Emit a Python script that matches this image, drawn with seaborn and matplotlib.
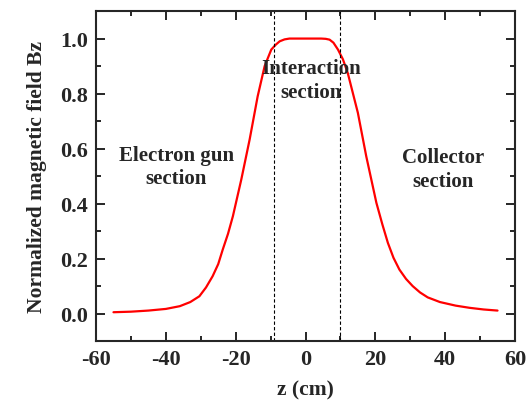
import numpy as np
import pandas as pd
import seaborn as sns
import matplotlib
matplotlib.use("Agg")
import matplotlib.pyplot as plt
from matplotlib.ticker import MultipleLocator

# values
z_cm = [-55, -50, -45, -40, -36, -33, -30.4, -28.5, -26.6, -25, -23.7, -22.2,
        -20.8, -18.4, -16, -13.7, -11.7, -9.8, -8.5, -7.4, -6, -4.6, 0, 4.5,
        5.8, 6.9, 8, 9.3, 10.7, 12.1, 15, 17.4, 20.3, 22, 23.6, 25.2, 26.9,
        28.8, 30.7, 32.8, 35, 38.5, 43, 47, 51, 55]
bz = [0.005, 0.007, 0.011, 0.017, 0.027, 0.042, 0.063, 0.095, 0.136, 0.18,
      0.233, 0.29, 0.354, 0.487, 0.633, 0.79, 0.90, 0.96, 0.978, 0.99, 0.997,
      1.0, 1.0, 1.0, 0.999, 0.996, 0.985, 0.96, 0.925, 0.875, 0.73, 0.572,
      0.403, 0.325, 0.257, 0.203, 0.16, 0.126, 0.1, 0.077, 0.059, 0.042,
      0.029, 0.021, 0.015, 0.011]
section_edges = [-9, 10]
labels = ["Electron gun\nsection", "Interaction\nsection", "Collector\nsection"]
label_pos = [(-37, 0.535), (1.7, 0.85), (39.5, 0.525)]

df = pd.DataFrame({"z": z_cm, "Bz": bz})

sns.set_style("ticks")
plt.rcParams["font.family"] = ["Liberation Serif", "DejaVu Serif"]
plt.rcParams["font.weight"] = "bold"
plt.rcParams["axes.unicode_minus"] = False

fig = plt.figure(figsize=(5.32, 4.02), dpi=100)
ax = fig.add_axes([0.1805, 0.149, 0.7875, 0.821])

sns.lineplot(data=df, x="z", y="Bz", color="red", linewidth=1.6, ax=ax)
for e in section_edges:
    ax.axvline(e, color="black", linestyle=(0, (3, 2)), linewidth=0.8)

for txt, (x, y) in zip(labels, label_pos):
    ax.text(x, y, txt, ha="center", va="center", fontsize=15,
            fontweight="bold", linespacing=1.25)

ax.set_xlim(-60, 60)
ax.set_ylim(-0.1, 1.1)
ax.xaxis.set_major_locator(MultipleLocator(20))
ax.xaxis.set_minor_locator(MultipleLocator(10))
ax.yaxis.set_major_locator(MultipleLocator(0.2))
ax.yaxis.set_minor_locator(MultipleLocator(0.1))
ax.set_yticks([0.0, 0.2, 0.4, 0.6, 0.8, 1.0])
ax.tick_params(which="both", direction="in", top=True, right=True,
               width=1.4, labelsize=16)
ax.tick_params(which="major", length=6.5, pad=6)
ax.tick_params(which="minor", length=3.5)
for lab in ax.get_xticklabels() + ax.get_yticklabels():
    lab.set_fontweight("bold")
for s in ax.spines.values():
    s.set_linewidth(1.5)

ax.set_xlabel("z (cm)", fontsize=15.5, fontweight="bold", labelpad=7)
ax.set_ylabel("Normalized magnetic field Bz", fontsize=15.5, fontweight="bold",
              labelpad=9)

fig.savefig("out.png", dpi=100)
